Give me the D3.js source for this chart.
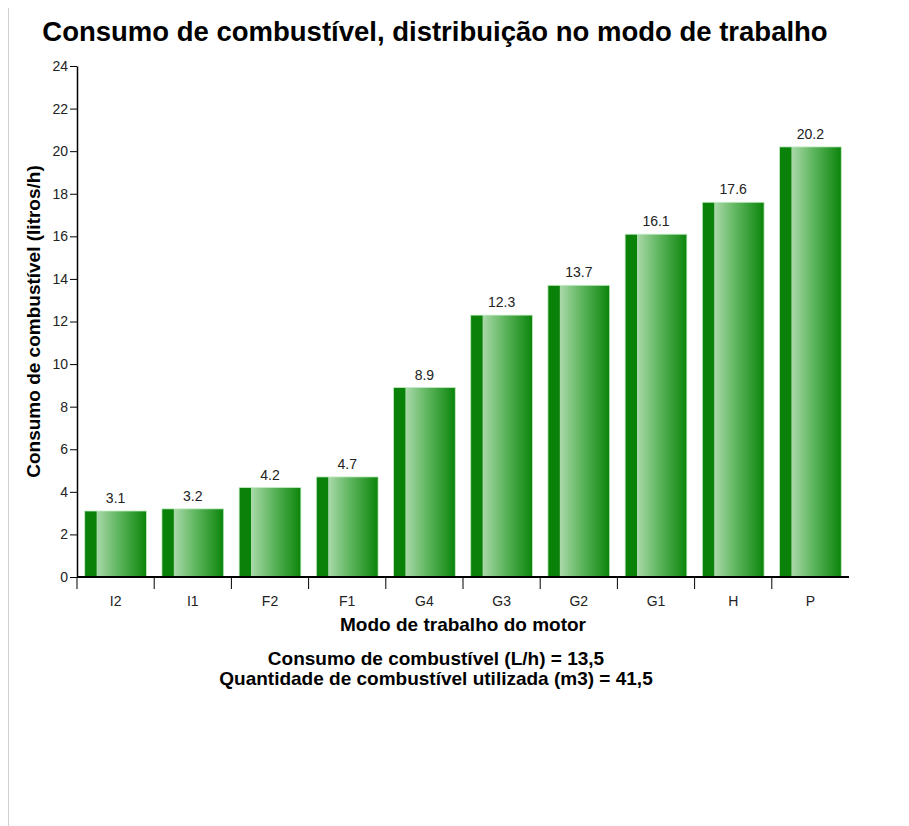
<!DOCTYPE html>
<html><head><meta charset="utf-8">
<script src="https://cdn.jsdelivr.net/npm/d3@7"></script>
<style>
body{margin:0;background:#fff;}
svg{display:block;font-family:Arial,"Liberation Sans",sans-serif;}
</style></head>
<body>
<svg id="chart" width="909" height="826"></svg>
<script>
const categories = ["I2","I1","F2","F1","G4","G3","G2","G1","H","P"];
const values = [3.1,3.2,4.2,4.7,8.9,12.3,13.7,16.1,17.6,20.2];
const yTicks = [0,2,4,6,8,10,12,14,16,18,20,22,24];
const title = "Consumo de combustível, distribuição no modo de trabalho";
const yLabel = "Consumo de combustível (litros/h)";
const xLabel = "Modo de trabalho do motor";
const notes = ["Consumo de combustível (L/h) = 13,5","Quantidade de combustível utilizada (m3) = 41,5"];

const svg = d3.select("#chart");
const m = {left:77, right:849, top:66, bottom:577};

svg.append("line").attr("x1",8.5).attr("x2",8.5).attr("y1",8).attr("y2",826)
  .attr("stroke","#d0d0d0").attr("stroke-width",1);

const defs = svg.append("defs");
const g = defs.append("linearGradient").attr("id","barGrad").attr("x1","0%").attr("x2","100%").attr("y1","0%").attr("y2","0%");
[[0,"#0a820a"],[0.185,"#0a820a"],[0.2,"#a9d8a9"],[0.55,"#5db55d"],[1,"#0b850b"]].forEach(([o,c])=>
  g.append("stop").attr("offset",o).attr("stop-color",c));

const x = d3.scaleBand().domain(categories).range([m.left,m.right]).paddingInner(0.2).paddingOuter(0.1);
const y = d3.scaleLinear().domain([0,24]).range([m.bottom,m.top]);

svg.append("text").attr("x",435).attr("y",41).attr("text-anchor","middle")
  .attr("font-size",27.5).attr("font-weight","bold").attr("fill","#000").text(title);

// bars
svg.selectAll("rect.bar").data(values).enter().append("rect").attr("class","bar")
  .attr("x",(d,i)=>x(categories[i])).attr("width",x.bandwidth())
  .attr("y",d=>y(d)).attr("height",d=>y(0)-y(d))
  .attr("fill","url(#barGrad)").attr("stroke","#c4ecc4").attr("stroke-width",0.8);

svg.selectAll("text.val").data(values).enter().append("text").attr("class","val")
  .attr("x",(d,i)=>x(categories[i])+x.bandwidth()/2).attr("y",d=>y(d)-8)
  .attr("text-anchor","middle").attr("font-size",14).attr("fill","#222").text(d=>d.toFixed(1));

// y axis
const ya = svg.append("g").attr("transform",`translate(${m.left},0)`)
  .call(d3.axisLeft(y).tickValues(yTicks).tickSize(7).tickSizeOuter(0));
ya.select(".domain").attr("stroke","#000").attr("stroke-width",1.5);
ya.selectAll(".tick line").attr("stroke","#000");
ya.selectAll(".tick text").attr("font-size",14).attr("font-family","Arial, Liberation Sans, sans-serif").attr("fill","#222").attr("x",-9);

// x axis
const boundaries = d3.range(categories.length).map(i=>m.left + i*(m.right-m.left)/categories.length);
const xa = svg.append("g").attr("transform",`translate(0,${m.bottom})`);
xa.append("line").attr("x1",m.left).attr("x2",m.right).attr("stroke","#000").attr("stroke-width",2);
xa.selectAll("line.tk").data(boundaries).enter().append("line").attr("class","tk")
  .attr("x1",d=>d).attr("x2",d=>d).attr("y1",0).attr("y2",12).attr("stroke","#000");
xa.selectAll("text").data(categories).enter().append("text")
  .attr("x",d=>x(d)+x.bandwidth()/2).attr("y",29).attr("text-anchor","middle")
  .attr("font-size",14).attr("fill","#222").text(d=>d);

svg.append("text").attr("transform",`translate(40,${(m.top+m.bottom)/2}) rotate(-90)`)
  .attr("text-anchor","middle").attr("font-size",19).attr("font-weight","bold").text(yLabel);

svg.append("text").attr("x",(m.left+m.right)/2).attr("y",631).attr("text-anchor","middle")
  .attr("font-size",19).attr("font-weight","bold").text(xLabel);

svg.selectAll("text.note").data(notes).enter().append("text").attr("class","note")
  .attr("x",436).attr("y",(d,i)=>665+i*20).attr("text-anchor","middle")
  .attr("font-size",19).attr("font-weight","bold").text(d=>d);
</script>
</body></html>
